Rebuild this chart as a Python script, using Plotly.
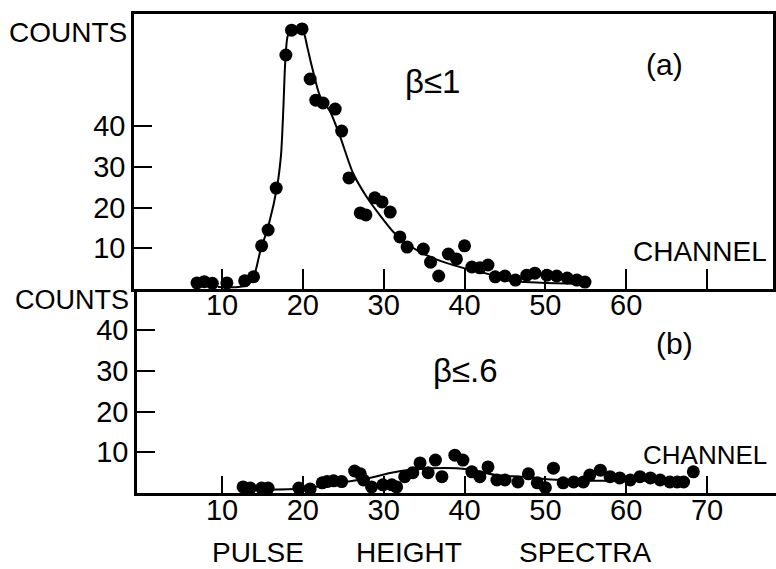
import plotly.graph_objects as go

# ---- panel (a): beta <= 1 ----
a_channel = [6.9, 7.8, 8.8, 10.6, 12.8, 13.9, 14.9, 15.7, 16.7, 17.9, 18.6, 19.9,
             20.9, 21.6, 22.5, 24.0, 24.8, 25.7, 27.1, 27.8, 28.9, 29.8, 30.8, 32.0,
             32.9, 34.9, 35.8, 36.8, 38.0, 39.0, 40.0, 40.9, 41.9, 42.9, 43.8, 45.0,
             46.3, 47.7, 48.7, 50.2, 51.4, 52.7, 53.9, 54.9]
a_counts = [1.5, 1.8, 1.4, 1.5, 2.0, 3.0, 10.6, 14.5, 24.8, 57.5, 63.6, 63.9,
            51.6, 46.4, 45.7, 44.2, 38.8, 27.3, 18.7, 18.2, 22.4, 21.4, 18.9, 12.8,
            10.3, 9.8, 6.6, 3.2, 8.6, 7.4, 10.6, 5.4, 5.2, 5.9, 3.0, 3.2,
            2.2, 3.4, 3.9, 3.4, 3.2, 2.7, 2.2, 1.7]

a_fit_channel = [9.5, 12.0, 13.2, 14.0, 14.7, 15.8, 16.8, 17.3, 17.6, 17.8, 18.1, 18.6,
                 19.5, 20.1, 20.6, 21.2, 22.1, 23.4, 24.6, 26.2, 27.9, 29.5, 31.2, 33.3,
                 36.1, 39.8, 41.9, 43.4, 44.4, 47.0, 50.0, 55.0]
a_fit_counts = [0.5, 0.5, 1.0, 3.5, 9.0, 16.0, 25.0, 33.0, 45.0, 55.0, 62.0, 64.0,
                64.2, 63.0, 59.0, 54.0, 47.5, 43.5, 37.5, 28.5, 22.6, 18.2, 14.0, 10.5,
                7.6, 5.2, 4.2, 3.4, 2.4, 1.8, 1.5, 1.2]

# ---- panel (b): beta <= .6 ----
b_channel = [12.6, 13.5, 14.9, 15.7, 19.5, 20.9, 22.4, 23.0, 23.8, 24.8, 26.4, 27.1,
             27.5, 28.5, 29.9, 31.0, 31.6, 32.6, 33.6, 34.5, 35.5, 36.4, 37.2, 38.8,
             39.8, 40.9, 41.9, 42.9, 44.0, 45.0, 46.6, 47.9, 49.0, 50.0, 51.0, 52.2,
             53.5, 54.7, 55.5, 56.8, 58.0, 59.2, 60.5, 61.7, 63.0, 64.2, 65.4, 66.3,
             67.1, 68.3]
b_counts = [1.5, 1.2, 1.2, 1.2, 1.2, 1.0, 2.5, 2.8, 3.0, 2.8, 5.4, 4.7,
            3.2, 1.5, 2.0, 2.0, 1.5, 4.0, 5.0, 7.4, 5.0, 8.1, 4.0, 9.3,
            8.1, 5.2, 4.0, 6.4, 3.2, 3.2, 2.7, 4.7, 2.5, 1.3, 6.1, 2.5,
            2.7, 2.7, 4.4, 5.6, 4.0, 3.7, 3.2, 4.0, 3.7, 3.2, 2.7, 2.7,
            2.7, 5.2]

b_fit_channel = [15.0, 20.0, 25.0, 28.0, 30.8, 33.3, 36.0, 39.0, 40.7, 44.0, 47.3,
                 50.2, 55.5, 60.0, 66.0]
b_fit_counts = [0.8, 1.1, 2.6, 3.6, 4.9, 5.7, 6.1, 6.1, 5.7, 4.4, 4.0,
                3.4, 3.0, 3.0, 3.0]

x_ticks = [10, 20, 30, 40, 50, 60, 70]
a_x_labels = ["10", "20", "30", "40", "50", "60", ""]
b_x_labels = ["10", "20", "30", "40", "50", "60", "70"]
y_ticks = [10, 20, 30, 40]

W, H = 776, 569
FONT = "Liberation Sans"


def px(x):
    return x / W


def py(y):
    return 1 - y / H


fig = go.Figure()

dot = dict(color="black", size=13)
fit = dict(color="black", width=2, shape="spline", smoothing=0.7)

fig.add_trace(go.Scatter(x=a_fit_channel, y=a_fit_counts, mode="lines", line=fit,
                         xaxis="x", yaxis="y", hoverinfo="skip"))
fig.add_trace(go.Scatter(x=a_channel, y=a_counts, mode="markers", marker=dot,
                         xaxis="x", yaxis="y"))
fig.add_trace(go.Scatter(x=b_fit_channel, y=b_fit_counts, mode="lines", line=fit,
                         xaxis="x2", yaxis="y2", hoverinfo="skip"))
fig.add_trace(go.Scatter(x=b_channel, y=b_counts, mode="markers", marker=dot,
                         xaxis="x2", yaxis="y2"))

tickfont = dict(family=FONT, size=29, color="black")
common = dict(showgrid=False, zeroline=False, showline=True, linecolor="black",
              linewidth=2.5, ticks="inside", tickcolor="black", tickwidth=2,
              tickfont=tickfont)

fig.update_layout(
    width=W, height=H,
    margin=dict(l=0, r=0, t=0, b=0),
    paper_bgcolor="white", plot_bgcolor="white",
    showlegend=False,
    xaxis=dict(domain=[px(134), px(773)], range=[-0.89, 78.16], anchor="y",
               tickvals=x_ticks, ticktext=a_x_labels, ticklen=20, mirror=True,
               ticklabelstandoff=-12, **common),
    yaxis=dict(domain=[py(289), py(14)], range=[0, 67.57], anchor="x",
               tickvals=y_ticks, ticklen=18, mirror=True, **common),
    xaxis2=dict(domain=[px(137), 1.0], range=[-0.52, 78.53], anchor="y2",
                tickvals=x_ticks, ticktext=b_x_labels, ticklen=17,
                ticklabelstandoff=-11, **common),
    yaxis2=dict(domain=[py(493), py(289)], range=[0, 50.12], anchor="x2",
                tickvals=y_ticks, ticklen=18, **common),
)


def label(text, x, y, size=28):
    fig.add_annotation(text=text, x=px(x), y=py(y), xref="paper", yref="paper",
                       xanchor="center", yanchor="middle", showarrow=False,
                       font=dict(family=FONT, size=size, color="black"))


label("COUNTS", 68, 32)
label("COUNTS", 72, 300, size=27)
label("(a)", 664, 65, size=30)
label("(b)", 674, 343, size=30)
label("β≤1", 432, 82, size=33)
label("β≤.6", 465, 370, size=33)
label("CHANNEL", 700, 251)
label("CHANNEL", 705, 455, size=26)
label("PULSE", 258, 552)
label("HEIGHT", 409, 552)
label("SPECTRA", 585, 552)

fig.write_html("out.html")
